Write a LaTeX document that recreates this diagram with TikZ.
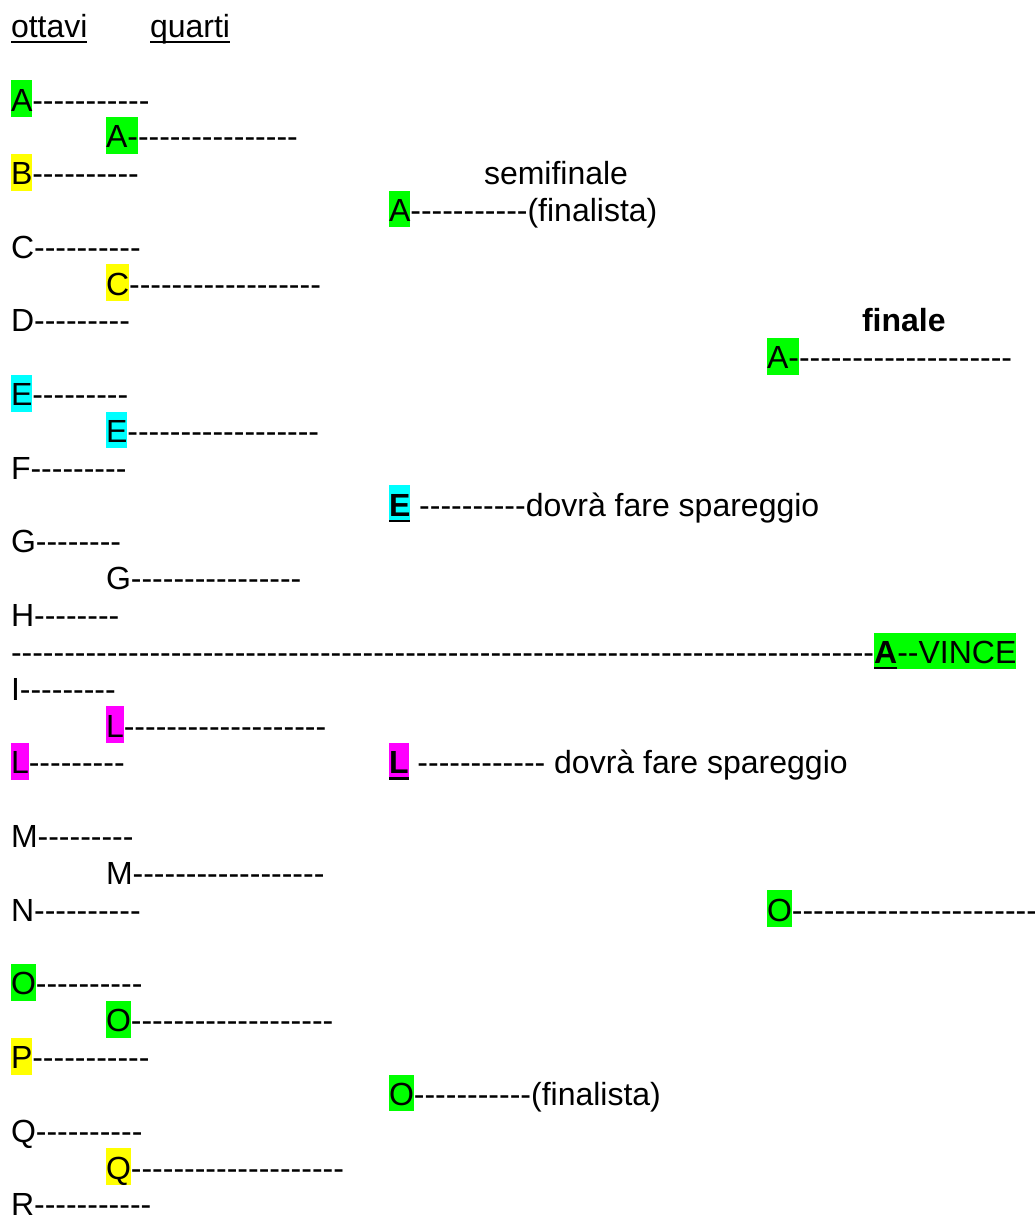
\documentclass[tikz,border=0pt]{standalone}
\usepackage{fontspec}
\setmainfont{Liberation Sans}
\definecolor{hg}{RGB}{0,255,0}
\definecolor{hy}{RGB}{255,255,0}
\definecolor{hc}{RGB}{0,255,255}
\definecolor{hm}{RGB}{255,0,255}
\ExplSyntaxOn
\cs_new:Npn \dashrep #1 { \prg_replicate:nn {#1} { -\kern0pt } }
\ExplSyntaxOff
\newcommand\hl[2]{{\setlength{\fboxsep}{0pt}\colorbox{#1}{\rule[-6pt]{0pt}{36.8pt}#2}}}
\newsavebox\ulbox
\newcommand\ulx[1]{\sbox\ulbox{#1}\rlap{\rule[-5.8pt]{\wd\ulbox}{2.4pt}}\usebox\ulbox}
\def\R#1{-111pt-36.83pt*#1}
\tikzset{txt/.style={anchor=base west, inner sep=0pt, outer sep=0pt,
  font=\fontsize{32pt}{36.83pt}\selectfont}}
\begin{document}
\begin{tikzpicture}
\useasboundingbox (0,0) rectangle (1035pt,-1216pt);
% headers
\node[txt] (hott) at (11pt,{\R{-2}}) {\ulx{ottavi}};
\node[txt] (hqua) at (150pt,{\R{-2}}) {\ulx{quarti}};
\node[txt] (hsemi) at (484pt,{\R{2}}) {semifinale};
\node[txt] (hfin) at (862pt,{\R{6}}) {\textbf{finale}};
% ottavi
\node[txt] (oA) at (11pt,{\R{0}}) {\hl{hg}{A}\dashrep{11}};
\node[txt] (oB) at (11pt,{\R{2}}) {\hl{hy}{B}\dashrep{10}};
\node[txt] (oC) at (11pt,{\R{4}}) {C\dashrep{10}};
\node[txt] (oD) at (11pt,{\R{6}}) {D\dashrep{9}};
\node[txt] (oE) at (11pt,{\R{8}}) {\hl{hc}{E}\dashrep{9}};
\node[txt] (oF) at (11pt,{\R{10}}) {F\dashrep{9}};
\node[txt] (oG) at (11pt,{\R{12}}) {G\dashrep{8}};
\node[txt] (oH) at (11pt,{\R{14}}) {H\dashrep{8}};
\node[txt] (win) at (11pt,{\R{15}}) {\dashrep{81}\hl{hg}{\ulx{\textbf{A}}\dashrep{2}VINCE}};
\node[txt] (oI) at (11pt,{\R{16}}) {I\dashrep{9}};
\node[txt] (oL) at (11pt,{\R{18}}) {\hl{hm}{L}\dashrep{9}};
\node[txt] (oM) at (11pt,{\R{20}}) {M\dashrep{9}};
\node[txt] (oN) at (11pt,{\R{22}}) {N\dashrep{10}};
\node[txt] (oO) at (11pt,{\R{24}}) {\hl{hg}{O}\dashrep{10}};
\node[txt] (oP) at (11pt,{\R{26}}) {\hl{hy}{P}\dashrep{11}};
\node[txt] (oQ) at (11pt,{\R{28}}) {Q\dashrep{10}};
\node[txt] (oR) at (11pt,{\R{30}}) {R\dashrep{11}};
% quarti
\node[txt] (qA) at (106pt,{\R{1}}) {\hl{hg}{A-}\dashrep{15}};
\node[txt] (qC) at (106pt,{\R{5}}) {\hl{hy}{C}\dashrep{18}};
\node[txt] (qE) at (106pt,{\R{9}}) {\hl{hc}{E}\dashrep{18}};
\node[txt] (qG) at (106pt,{\R{13}}) {G\dashrep{16}};
\node[txt] (qL) at (106pt,{\R{17}}) {\hl{hm}{L}\dashrep{19}};
\node[txt] (qM) at (106pt,{\R{21}}) {M\dashrep{18}};
\node[txt] (qO) at (106pt,{\R{25}}) {\hl{hg}{O}\dashrep{19}};
\node[txt] (qQ) at (106pt,{\R{29}}) {\hl{hy}{Q}\dashrep{20}};
% semifinale
\node[txt] (sA) at (389pt,{\R{3}}) {\hl{hg}{A}\dashrep{11}(finalista)};
\node[txt] (sE) at (389pt,{\R{11}}) {\hl{hc}{\ulx{\textbf{E}}}\ \dashrep{10}dovrà fare spareggio};
\node[txt] (sL) at (389pt,{\R{18}}) {\hl{hm}{\ulx{\textbf{L}}}\ \dashrep{12}\ dovrà fare spareggio};
\node[txt] (sO) at (389pt,{\R{27}}) {\hl{hg}{O}\dashrep{11}(finalista)};
% finale
\node[txt] (fA) at (767pt,{\R{7}}) {\hl{hg}{A-}\dashrep{20}};
\node[txt] (fO) at (767pt,{\R{22}}) {\hl{hg}{O}\dashrep{23}};
\end{tikzpicture}
\end{document}
